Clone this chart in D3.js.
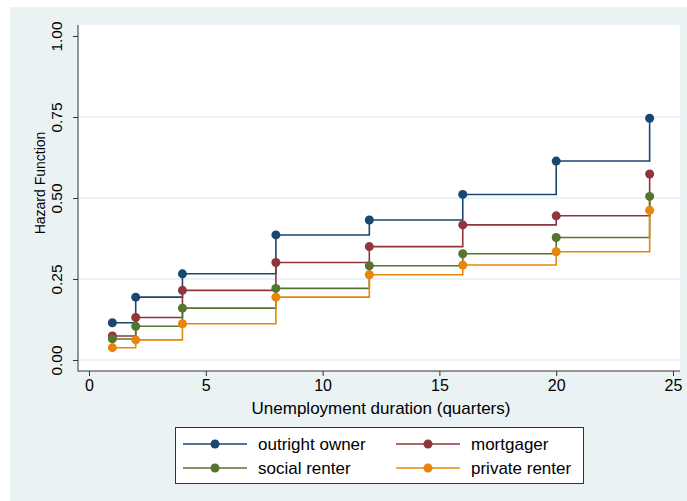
<!DOCTYPE html>
<html>
<head>
<meta charset="utf-8">
<script src="https://cdn.jsdelivr.net/npm/d3@7"></script>
<style>
  html, body { margin: 0; padding: 0; background: #ffffff; }
  svg { display: block; font-family: "Liberation Sans", Arial, Helvetica, sans-serif; }
</style>
</head>
<body>
<svg id="chart" width="687" height="501"></svg>
<script>
// Quarters of unemployment at which the hazard is estimated
const durations = [1, 2, 4, 8, 12, 16, 20, 24];

// Hazard estimates by housing tenure
const outrightOwner = [0.115, 0.194, 0.266, 0.386, 0.432, 0.511, 0.614, 0.746];
const mortgager     = [0.074, 0.131, 0.215, 0.301, 0.350, 0.417, 0.445, 0.574];
const socialRenter  = [0.065, 0.104, 0.160, 0.221, 0.291, 0.328, 0.378, 0.505];
const privateRenter = [0.038, 0.062, 0.112, 0.194, 0.263, 0.293, 0.334, 0.462];

const seriesNames  = ["outright owner", "mortgager", "social renter", "private renter"];
const seriesColors = ["#1a476f", "#90353b", "#55752f", "#e8850a"];

const xTicks = [0, 5, 10, 15, 20, 25];
const yTicks = [0, 0.25, 0.5, 0.75, 1];

const series = [outrightOwner, mortgager, socialRenter, privateRenter].map((vals, i) => ({
  name: seriesNames[i],
  color: seriesColors[i],
  points: durations.map((d, j) => ({ x: d, y: vals[j] }))
}));

const svg = d3.select("#chart");
const W = 687, H = 501;

// Graph region background
svg.append("rect").attr("x", 10).attr("y", 7).attr("width", W - 10).attr("height", H - 7)
  .attr("fill", "#eaf2f3");

// Plot region
const plot = { left: 78, right: 680, top: 25, bottom: 371 };
svg.append("rect")
  .attr("x", plot.left).attr("y", plot.top)
  .attr("width", plot.right - plot.left).attr("height", plot.bottom - plot.top)
  .attr("fill", "#ffffff");

const x = d3.scaleLinear().domain([0, 25]).range([89, 673]);
const y = d3.scaleLinear().domain([0, 1]).range([360, 36]);

// Horizontal gridlines
svg.append("g").selectAll("line")
  .data(yTicks.filter(t => t < 1))
  .join("line")
  .attr("x1", plot.left).attr("x2", plot.right)
  .attr("y1", d => y(d)).attr("y2", d => y(d))
  .attr("stroke", "#e4eef0").attr("stroke-width", 1.5);

// Axes
const yAxis = d3.axisLeft(y).tickValues(yTicks).tickFormat(d3.format(".2f"))
  .tickSize(5).tickPadding(4);
const yG = svg.append("g").attr("transform", `translate(${plot.left},0)`).call(yAxis);
yG.select(".domain").remove();
yG.selectAll(".tick line").attr("stroke", "#333");
yG.selectAll(".tick text")
  .attr("transform", "rotate(-90)")
  .attr("x", 0).attr("y", -16)
  .attr("dy", 0)
  .attr("text-anchor", "middle")
  .style("font-size", "15.5px").attr("fill", "#000");

const xAxis = d3.axisBottom(x).tickValues(xTicks).tickFormat(d3.format("d"))
  .tickSize(5).tickPadding(4);
const xG = svg.append("g").attr("transform", `translate(0,${plot.bottom})`).call(xAxis);
xG.select(".domain").remove();
xG.selectAll(".tick line").attr("stroke", "#333");
xG.selectAll(".tick text").style("font-size", "16px").attr("fill", "#000");

// Axis lines
svg.append("line").attr("x1", plot.left).attr("x2", plot.left)
  .attr("y1", plot.top).attr("y2", plot.bottom + 0.5)
  .attr("stroke", "#333").attr("stroke-width", 1);
svg.append("line").attr("x1", plot.left).attr("x2", plot.right)
  .attr("y1", plot.bottom).attr("y2", plot.bottom)
  .attr("stroke", "#333").attr("stroke-width", 1);

// Axis titles
svg.append("text")
  .attr("transform", "translate(45,183) rotate(-90)")
  .attr("text-anchor", "middle")
  .style("font-size", "14px")
  .text("Hazard Function");
svg.append("text")
  .attr("x", 381).attr("y", 414)
  .attr("text-anchor", "middle")
  .style("font-size", "17px")
  .text("Unemployment duration (quarters)");

// Step lines and markers
const line = d3.line().x(d => x(d.x)).y(d => y(d.y)).curve(d3.curveStepAfter);
const marks = svg.append("g");
series.forEach(s => {
  marks.append("path")
    .attr("d", line(s.points))
    .attr("fill", "none")
    .attr("stroke", s.color)
    .attr("stroke-width", 1.6);
});
series.forEach(s => {
  marks.append("g").selectAll("circle")
    .data(s.points)
    .join("circle")
    .attr("cx", d => x(d.x)).attr("cy", d => y(d.y))
    .attr("r", 4.5)
    .attr("fill", s.color);
});

// Legend
const legend = svg.append("g");
legend.append("rect")
  .attr("x", 175.5).attr("y", 427.5).attr("width", 408).attr("height", 56)
  .attr("fill", "#ffffff").attr("stroke", "#333").attr("stroke-width", 1);
const cols = [183, 396];
const rows = [444, 468];
series.forEach((s, i) => {
  const cx = cols[i % 2], cy = rows[Math.floor(i / 2)];
  const g = legend.append("g").attr("transform", `translate(${cx},${cy})`);
  g.append("line").attr("x1", 0).attr("x2", 64).attr("y1", 0).attr("y2", 0)
    .attr("stroke", s.color).attr("stroke-width", 1.6);
  g.append("circle").attr("cx", 32).attr("cy", 0).attr("r", 4.5).attr("fill", s.color);
  g.append("text").attr("x", 75).attr("y", 6)
    .style("font-size", "17px").attr("fill", "#000")
    .text(s.name);
});
</script>
</body>
</html>
